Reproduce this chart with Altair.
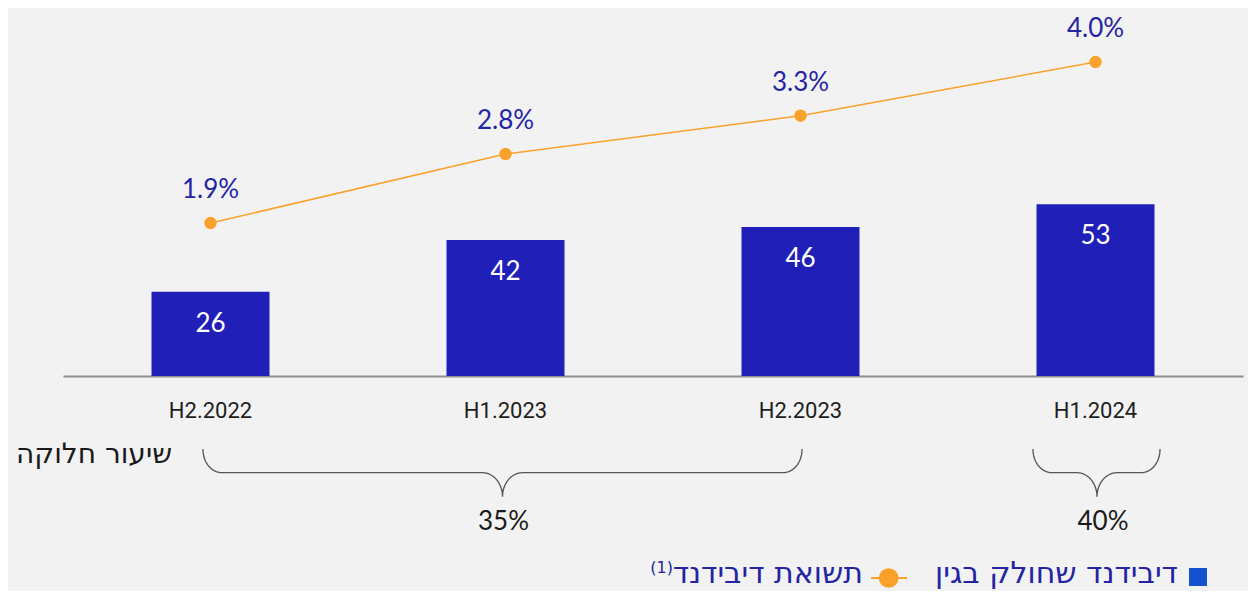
import numpy as np
import pandas as pd
import altair as alt

# ---- data ----
periods = ["H2.2022", "H1.2023", "H2.2023", "H1.2024"]
dividend = [26, 42, 46, 53]
yield_pct = [1.9, 2.8, 3.3, 4.0]
payout_labels = ["35%", "40%"]

df = pd.DataFrame({
    "period": periods,
    "dividend": dividend,
    "yld": yield_pct,
    "yld_label": [f"{v:.1f}%" for v in yield_pct],
})

BAR = "#2020b8"
ORANGE = "#f9a12a"
NAVY = "#2424a2"
DARK = "#1a1a1a"
HEB = "DejaVu Sans, Liberation Sans"
NUM = "Lato"

x = alt.X("period:N", sort=periods,
          scale=alt.Scale(paddingInner=0.6, paddingOuter=0.3),
          axis=alt.Axis(title=None, labelAngle=0, labelFont="Roboto", labelFontSize=22,
                        labelColor="#1e1e1e", labelPadding=24, ticks=False, tickSize=0,
                        domainColor="#8c8c8c", domainWidth=2, grid=False))

ybar = alt.Y("dividend:Q", scale=alt.Scale(domain=[0, 113.6], nice=False, zero=True), axis=None)
yline = alt.Y("yld:Q", scale=alt.Scale(domain=[-0.095, 4.705], nice=False, zero=False), axis=None)

bars = alt.Chart(df).mark_bar(color=BAR).encode(x=x, y=ybar)
bar_text = alt.Chart(df).mark_text(color="white", font=NUM, fontSize=26, baseline="middle", dy=32).encode(
    x=x, y=ybar, text="dividend:Q")
bar_layer = alt.layer(bars, bar_text)

line = alt.Chart(df).mark_line(color=ORANGE, strokeWidth=1.5).encode(x=x, y=yline)
pts = alt.Chart(df).mark_circle(color=ORANGE, size=155, opacity=1).encode(x=x, y=yline)
pct_text = alt.Chart(df).mark_text(color=NAVY, font=NUM, fontSize=26, baseline="middle", dy=-33).encode(
    x=x, y=yline, text="yld_label:N")
line_layer = alt.layer(line, pts, pct_text)


# ---- brace decorations (pixel geometry) ----
def brace(bid, x0, x1, xc, ytop=441.0, ymid=464.7, ybot=489.0, rc=(19, 23), rk=(20, 24)):
    pts_ = [(x0, ytop)]
    cx, cy = x0 + rc[0], ymid - rc[1]
    for t in np.linspace(np.pi, np.pi / 2, 16):
        pts_.append((cx + rc[0] * np.cos(t), cy + rc[1] * np.sin(t)))
    cx, cy = xc - rk[0], ymid + rk[1]
    for t in np.linspace(-np.pi / 2, 0, 16):
        pts_.append((cx + rk[0] * np.cos(t), cy + rk[1] * np.sin(t)))
    cx, cy = xc + rk[0], ymid + rk[1]
    for t in np.linspace(np.pi, 1.5 * np.pi, 16):
        pts_.append((cx + rk[0] * np.cos(t), cy + rk[1] * np.sin(t)))
    cx, cy = x1 - rc[0], ymid - rc[1]
    for t in np.linspace(np.pi / 2, 0, 16):
        pts_.append((cx + rc[0] * np.cos(t), cy + rc[1] * np.sin(t)))
    pts_.append((x1, ytop))
    return [{"brace": bid, "i": i, "bx": p[0], "by": p[1]} for i, p in enumerate(pts_)]


brace_df = pd.DataFrame(brace("a", 140, 739, 439.5) + brace("b", 970, 1097, 1034))
braces = alt.Chart(brace_df).mark_line(color="#555555", strokeWidth=1.3).encode(
    x=alt.X("bx:Q", scale=None), y=alt.Y("by:Q", scale=None), detail="brace:N", order="i:Q")


def label(text, px, py, size, color, font, align="center"):
    return alt.Chart(pd.DataFrame({"t": [text]})).mark_text(
        align=align, baseline="middle", fontSize=size, color=color, font=font).encode(
        x=alt.value(px), y=alt.value(py), text="t:N")


one = pd.DataFrame({"k": [0]})
ann = [
    label("שיעור חלוקה", 109, 447, 28, DARK, HEB, "right"),
    label(payout_labels[0], 440.5, 514, 26, DARK, NUM),
    label(payout_labels[1], 1040, 514, 26, DARK, NUM),
    alt.Chart(one).mark_square(color="#1252cc", size=324, opacity=1).encode(
        x=alt.value(1135), y=alt.value(569)),
    label("דיבידנד שחולק בגין", 1115, 566, 30, NAVY, HEB, "right"),
    alt.Chart(one).mark_rule(color=ORANGE, strokeWidth=2).encode(
        x=alt.value(808), x2=alt.value(844), y=alt.value(570)),
    alt.Chart(one).mark_circle(color=ORANGE, size=390, opacity=1).encode(
        x=alt.value(825.7), y=alt.value(570)),
    label("תשואת דיבידנד", 800, 566, 30, NAVY, HEB, "right"),
    label("(1)", 610, 560, 16, NAVY, HEB, "right"),
]

chart = alt.layer(bar_layer, line_layer, braces, *ann).resolve_scale(y="independent").properties(
    width=1180, height=368,
    autosize=alt.AutoSizeParams(type="none"),
    padding={"left": 55, "top": 0, "right": 5, "bottom": 215},
).configure(background="#f2f2f2").configure_view(stroke=None)

chart.save("out.html", embed_options={"renderer": "svg", "actions": False})
